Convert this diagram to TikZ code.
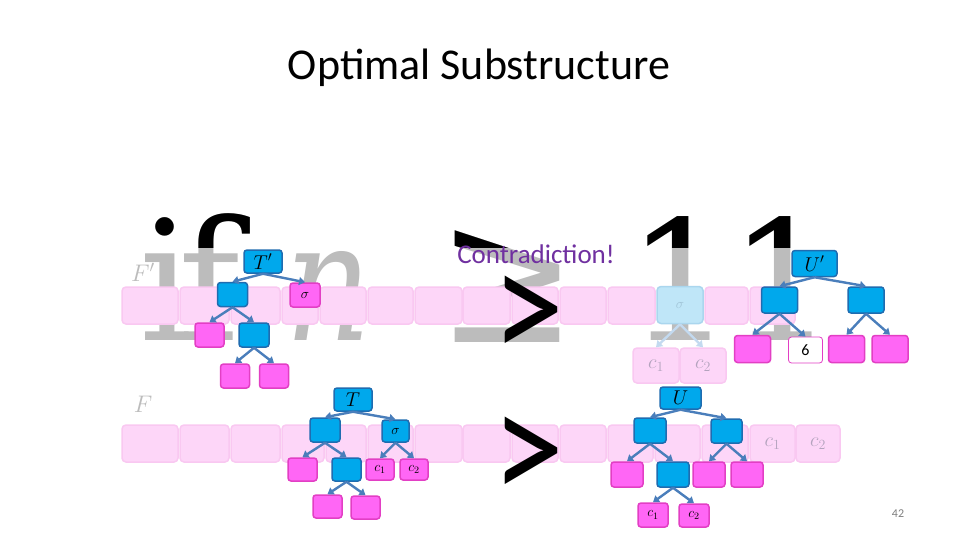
\documentclass[tikz,border=0pt]{standalone}
\usepackage{fix-cm}
\usepackage{graphicx}
\usepackage{fontspec}
\setmainfont{Carlito}
\newfontfamily\bigserif{DejaVu Serif}
\usetikzlibrary{arrows.meta}
\definecolor{cellpink}{HTML}{FDD6F8}
\definecolor{cellline}{HTML}{F9C8F1}
\definecolor{nodeblue}{HTML}{00A8EC}
\definecolor{nodeline}{HTML}{1F6CB0}
\definecolor{leafpink}{HTML}{FF66F5}
\definecolor{leafline}{HTML}{E23FC4}
\definecolor{linkblue}{HTML}{4A7EBB}
\definecolor{ghostblue}{HTML}{BFE6F8}
\definecolor{ghostline}{HTML}{AAD6EE}
\definecolor{ghostlink}{HTML}{C3DAF0}
\definecolor{ghosttext}{HTML}{B4A3BE}
\definecolor{bgtext}{HTML}{BCBCBC}
\definecolor{purpletext}{HTML}{7030A0}
\tikzset{
  cell/.style={draw=cellline, fill=cellpink, line width=1.5pt, rounded corners=4pt,
    minimum height=37pt, inner sep=0pt},
  inner/.style={draw=nodeline, fill=nodeblue, line width=1.5pt, rounded corners=3pt,
    minimum width=30pt, minimum height=24pt, inner sep=0pt},
  leaf/.style={draw=leafline, fill=leafpink, line width=1.5pt, rounded corners=3pt,
    minimum width=29pt, minimum height=24pt, inner sep=0pt},
  link/.style={draw=linkblue, line width=2.4pt, -{Triangle[length=6pt,width=8pt]}},
  ghostlink/.style={draw=ghostlink, line width=2.4pt, -{Triangle[length=6pt,width=8pt]}},
  rootlab/.style={font=\fontsize{20}{20}\selectfont},
  smalllab/.style={font=\fontsize{14}{14}\selectfont},
  glyph/.style={font=\bigserif\fontsize{167}{167}\selectfont, anchor=base west, inner sep=0pt},
  bigsign/.style={font=\fontsize{160}{160}\selectfont, anchor=base, inner sep=0pt}
}
\newcommand\ifline[2]{%
  \node[glyph, text=#1] (#2i) at (139,340) {i};
  \node[glyph, text=#1] (#2f) at (178,340) {f};
  \node[glyph, text=#1] (#2n) at (285,340) {\scalebox{0.8}[1]{\itshape n}};
  \node[glyph, text=#1] (#2ge) at (437,342) {\scalebox{1}[1.15]{≥}};
  \node[glyph, text=#1] (#2one) at (627,340) {1};
  \node[glyph, text=#1] (#2two) at (729,340) {1};
}
\begin{document}
\begin{tikzpicture}[x=1pt,y=-1pt]
  \useasboundingbox (0,0) rectangle (960,540);
  \fill[white] (0,0) rectangle (960,540);
  \node[font=\fontsize{44}{44}\selectfont] (title) at (479,68) {Optimal Substructure};

  \ifline{bgtext}{g}
  \begin{scope}
    \clip (100,200) rectangle (850,247);
    \ifline{black}{k}
  \end{scope}

  \node[text=bgtext, font=\fontsize{24}{24}\selectfont] (Fp) at (143,272) {$F'$};
  \node[text=bgtext, font=\fontsize{24}{24}\selectfont] (F) at (143,404) {$F$};

  % the two arrays
  \foreach \l/\r [count=\k] in {122/178,180/229,231/280,282/318,320/366,368/413,415/462,
      463/510,512/558,560/606,608/655,705/748,750/795}
    \node[cell, minimum width={(\r-\l)*1pt}] (top\k) at ({(\l+\r)/2},305.5) {};
  \foreach \l/\r [count=\k] in {122/178,180/229,231/280,282/324,326/366,368/413,415/462,
      463/510,512/558,560/606,608/653,655/700,702/748}
    \node[cell, minimum width={(\r-\l)*1pt}] (bot\k) at ({(\l+\r)/2},443.5) {};
  \node[cell, minimum width=45pt, text=ghosttext, font=\fontsize{20}{20}\selectfont] (botc1) at (772.5,443.5) {$c_1$};
  \node[cell, minimum width=44pt, text=ghosttext, font=\fontsize{20}{20}\selectfont] (botc2) at (818,443.5) {$c_2$};

  \node[cell, draw=ghostline, fill=ghostblue, minimum width=46pt, text=ghostline!80!gray, smalllab] (gsig) at (680,305) {$\sigma$};
  \node[cell, minimum width=46pt, minimum height=35pt, text=ghosttext, font=\fontsize{20}{20}\selectfont] (gc1) at (656,365.5) {$c_1$};
  \node[cell, minimum width=46pt, minimum height=35pt, text=ghosttext, font=\fontsize{20}{20}\selectfont] (gc2) at (703,365.5) {$c_2$};
  \draw[ghostlink] (gsig.south) -- (gc1.north);
  \draw[ghostlink] (gsig.south) -- (gc2.north);

  % T'
  \node[inner, minimum width=38pt, minimum height=23pt, rootlab] (Tp) at (263,261.5) {$T'$};
  \node[inner] (Tpl) at (232.5,294.5) {};
  \node[leaf, minimum width=30pt, smalllab] (Tps) at (305,295) {$\sigma$};
  \node[leaf] (Tpll) at (209.5,335) {};
  \node[inner] (Tplr) at (254,335) {};
  \node[leaf] (Tplrl) at (235,376) {};
  \node[leaf] (Tplrr) at (274,376) {};
  \draw[link] (Tp.south) -- (Tpl.north);
  \draw[link] (Tp.south) -- (Tps.north);
  \draw[link] (Tpl.south) -- (Tpll.north);
  \draw[link] (Tpl.south) -- (Tplr.north);
  \draw[link] (Tplr.south) -- (Tplrl.north);
  \draw[link] (Tplr.south) -- (Tplrr.north);

  % T
  \node[inner, minimum width=38pt, minimum height=23pt, rootlab] (T) at (353,399.5) {$T$};
  \node[inner] (Tl) at (325,430) {};
  \node[inner, minimum width=27pt, minimum height=22pt, smalllab] (Ts) at (395.5,431) {$\sigma$};
  \node[leaf, minimum height=23pt] (Tll) at (302.5,469.5) {};
  \node[inner, minimum width=29pt, minimum height=23pt] (Tlr) at (346.5,469.5) {};
  \node[leaf, minimum width=28pt, minimum height=21pt, smalllab] (Tsc1) at (380,469.5) {$c_1$};
  \node[leaf, minimum width=28pt, minimum height=21pt, smalllab] (Tsc2) at (414,469.5) {$c_2$};
  \node[leaf, minimum height=23pt] (Tlrl) at (327.5,506.5) {};
  \node[leaf, minimum height=23pt] (Tlrr) at (365.5,507.5) {};
  \draw[link] (T.south) -- (Tl.north);
  \draw[link] (T.south) -- (Ts.north);
  \draw[link] (Tl.south) -- (Tll.north);
  \draw[link] (Tl.south) -- (Tlr.north);
  \draw[link] (Ts.south) -- (Tsc1.north);
  \draw[link] (Ts.south) -- (Tsc2.north);
  \draw[link] (Tlr.south) -- (Tlrl.north);
  \draw[link] (Tlr.south) -- (Tlrr.north);

  % U'
  \node[inner, minimum width=45pt, minimum height=26pt, rootlab] (Up) at (814.5,263.5) {$U'$};
  \node[inner, minimum width=36pt, minimum height=26pt] (Upl) at (779.5,300) {};
  \node[inner, minimum width=36pt, minimum height=26pt] (Upr) at (866,300) {};
  \node[leaf, minimum width=36pt, minimum height=27pt] (Upll) at (752.5,349) {};
  \node[leaf, fill=white, line width=0.8pt, minimum width=34pt, minimum height=26pt,
    font=\fontsize{16}{16}\selectfont] (Uplr) at (805.5,350) {6};
  \node[leaf, minimum width=36pt, minimum height=27pt] (Uprl) at (846.5,349) {};
  \node[leaf, minimum width=36pt, minimum height=27pt] (Uprr) at (890,349) {};
  \draw[link] (Up.south) -- (Upl.north);
  \draw[link] (Up.south) -- (Upr.north);
  \draw[link] (Upl.south) -- (Upll.north);
  \draw[link] (Upl.south) -- (Uplr.north);
  \draw[link] (Upr.south) -- (Uprl.north);
  \draw[link] (Upr.south) -- (Uprr.north);

  % U
  \node[inner, minimum width=41pt, minimum height=22pt, rootlab] (U) at (680.5,398) {$U$};
  \node[inner, minimum width=32pt, minimum height=25pt] (Ul) at (650,430.5) {};
  \node[inner, minimum width=31pt, minimum height=24pt] (Ur) at (726.5,431) {};
  \node[leaf, minimum width=32pt, minimum height=25pt] (Ull) at (627,474.5) {};
  \node[inner, minimum width=32pt, minimum height=25pt] (Ulr) at (673,474.5) {};
  \node[leaf, minimum width=32pt, minimum height=25pt] (Url) at (709,474.5) {};
  \node[leaf, minimum width=32pt, minimum height=25pt] (Urr) at (747,474.5) {};
  \node[leaf, minimum width=30pt, smalllab] (Ulrc1) at (653,515) {$c_1$};
  \node[leaf, minimum width=30pt, minimum height=23pt, smalllab] (Ulrc2) at (694,515.5) {$c_2$};
  \draw[link] (U.south) -- (Ul.north);
  \draw[link] (U.south) -- (Ur.north);
  \draw[link] (Ul.south) -- (Ull.north);
  \draw[link] (Ul.south) -- (Ulr.north);
  \draw[link] (Ur.south) -- (Url.north);
  \draw[link] (Ur.south) -- (Urr.north);
  \draw[link] (Ulr.south) -- (Ulrc1.north);
  \draw[link] (Ulr.south) -- (Ulrc2.north);

  \node[bigsign] (gtop) at (528,361) {\scalebox{0.9}[1.02]{>}};
  \node[bigsign] (gbot) at (528,502) {\scalebox{0.9}[1.02]{>}};
  \node[text=purpletext, font=\fontsize{27}{27}\selectfont] (contra) at (536,254) {Contradiction!};
  \node[text=gray, font=\fontsize{12}{12}\selectfont] (page) at (898,514) {42};
\end{tikzpicture}
\end{document}
